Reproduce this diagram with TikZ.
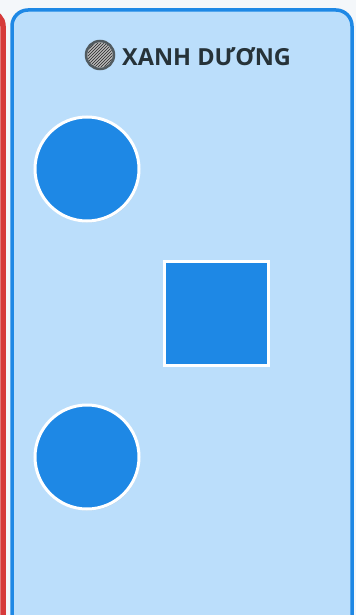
\documentclass[tikz,border=0pt]{standalone}
\usepackage{fontspec}
\setmainfont{Open Sans}
\usetikzlibrary{shadows,patterns}
\definecolor{bgc}{HTML}{F4F7FA}
\definecolor{panelfill}{HTML}{BBDEFB}
\definecolor{panelblue}{HTML}{1E88E5}
\definecolor{redc}{HTML}{D63A3A}
\definecolor{txt}{HTML}{263238}
\tikzset{
  shapefill/.style={fill=panelblue, draw=white, line width=3pt,
    drop shadow={shadow xshift=0.8pt, shadow yshift=-1.5pt, opacity=0.18, fill=black!60}},
  roundshape/.style={shapefill, circle, minimum size=104pt, inner sep=0pt},
  squareshape/.style={shapefill, rectangle, minimum size=104pt, inner sep=0pt},
}
\begin{document}
\begin{tikzpicture}[x=1pt,y=-1pt]
\useasboundingbox (0,0) rectangle (356,615);
\fill[bgc] (0,0) rectangle (356,615);
\begin{scope}
\clip (0,0) rectangle (356,615);
% red panel edge on the left
\draw[redc, line width=5.5pt, fill=white!90!redc, rounded corners=14pt] (-100,12) rectangle (3,720);
% blue panel
\draw[panelblue, line width=3.5pt, fill=panelfill, rounded corners=16pt] (12,10) rectangle (352,720);
\end{scope}
% title
\node[circle, minimum size=28pt, inner sep=0pt, draw=txt!80, line width=2.5pt, fill=gray!55] (icon) at (100,55) {};
\fill[pattern=north east lines, pattern color=gray!30!black] (icon.center) circle (12.5pt);
\node[anchor=west, text=txt, font=\bfseries\fontsize{23.5}{26}\selectfont, inner sep=0pt] (title) at (122,57) {XANH DƯƠNG};
% shapes
\node[roundshape] (c1) at (87,169) {};
\node[squareshape] (sq) at (216,313) {};
\node[roundshape] (c2) at (87,457) {};
\end{tikzpicture}
\end{document}
